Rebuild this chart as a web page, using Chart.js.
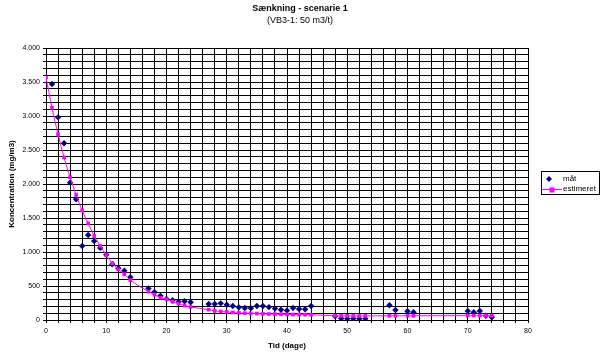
<!DOCTYPE html>
<html><head><meta charset="utf-8">
<script src="https://cdn.jsdelivr.net/npm/chart.js@4/dist/chart.umd.min.js"></script>
<style>html,body{margin:0;padding:0;background:#fff}#wrap{width:602px;height:357px}</style>
</head><body><div id="wrap"><canvas id="c" width="602" height="357"></canvas></div>
<script>
const titleText = "Sænkning - scenarie 1";
const subtitleText = "(VB3-1: 50 m3/t)";
const xTitle = "Tid (dage)";
const yTitle = "Koncentration (mg/m3)";
const seriesNames = ["måt", "estimeret"];

const maltDays = [1,2,3,4,5,6,7,8,9,10,11,12,13,14,17,18,19,20,21,22,23,24,27,28,29,30,31,32,33,34,35,36,37,38,39,40,41,42,43,44,48,49,50,51,52,53,57,58,60,61,70,71,72,73,74];
const maltValues = [3470,2980,2600,2020,1775,1090,1250,1160,1060,960,820,760,725,630,465,410,355,310,290,270,275,260,235,235,245,225,205,186,176,174,206,206,190,168,151,140,176,162,157,206,55,22,18,22,20,20,216,147,128,113,132,113,132,62,40];

const estDays = [0,1,2,3,4,5,6,7,8,9,10,11,12,13,14,17,18,19,20,21,22,23,24,27,28,29,30,31,32,33,34,35,36,37,38,39,40,41,42,43,44,48,49,50,51,52,53,57,58,60,61,70,71,72,73,74];
const estValues = [3570,3120,2730,2390,2100,1840,1610,1420,1235,1090,955,835,745,672,585,416,372,328,304,268,240,212,192,152,134,125,118,110,104,100,97,94,91,88,86,84,82,80,79,78,77,62,61,61,60,60,60,62,62,62,62,64,64,64,64,64];

const xTickLabels = [0,10,20,30,40,50,60,70,80];
const yTickLabels = [0,500,1000,1500,2000,2500,3000,3500,4000];

const FONT = "'Liberation Sans', Arial, sans-serif";
const NAVY = "#000080", MAGENTA = "#FF00FF";

function fmt(v){ return v.toString().replace(/\B(?=(\d{3})+(?!\d))/g, "."); }

const deco = {
  id: 'deco',
  afterDraw(chart){
    const ctx = chart.ctx, ca = chart.chartArea;
    ctx.save();
    ctx.fillStyle = '#000';
    ctx.textAlign = 'center';
    ctx.textBaseline = 'middle';
    ctx.font = "bold 9px " + FONT;
    ctx.fillText(titleText, 300, 9);
    ctx.font = "9px " + FONT;
    ctx.fillText(subtitleText, 300, 21);
    ctx.font = "bold 8px " + FONT;
    ctx.fillText(xTitle, (ca.left+ca.right)/2, 346);
    ctx.save();
    ctx.translate(12, (ca.top+ca.bottom)/2);
    ctx.rotate(-Math.PI/2);
    ctx.fillText(yTitle, 0, 0);
    ctx.restore();
    ctx.strokeStyle = '#000'; ctx.lineWidth = 1;
    ctx.strokeRect(541.5, 171.5, 58, 23);
    ctx.textAlign = 'left';
    ctx.font = "8px " + FONT;
    ctx.fillText(seriesNames[0], 563, 179);
    ctx.fillText(seriesNames[1], 563, 189);
    ctx.fillStyle = NAVY;
    ctx.beginPath(); ctx.moveTo(549,176); ctx.lineTo(552,179); ctx.lineTo(549,182); ctx.lineTo(546,179); ctx.closePath(); ctx.fill();
    ctx.strokeStyle = MAGENTA; ctx.beginPath(); ctx.moveTo(542,189.5); ctx.lineTo(562,189.5); ctx.stroke();
    ctx.fillStyle = MAGENTA; ctx.fillRect(549.5,187.5,5,5);
    ctx.restore();
  }
};

new Chart(document.getElementById('c'), {
  type: 'scatter',
  data: {
    datasets: [
      { label: seriesNames[0], data: maltDays.map((d,i)=>({x:d,y:maltValues[i]})),
        showLine:false, pointStyle:'rectRot', pointRadius:3.2, pointBackgroundColor:NAVY, pointBorderColor:NAVY, pointBorderWidth:0, order:2 },
      { label: seriesNames[1], data: estDays.map((d,i)=>({x:d,y:estValues[i]})),
        showLine:true, borderColor:MAGENTA, borderWidth:1, tension:0.3, pointStyle:'rect', pointRadius:2.6,
        pointBackgroundColor:MAGENTA, pointBorderColor:MAGENTA, pointBorderWidth:0, order:1 }
    ]
  },
  options: {
    responsive:false, animation:false, devicePixelRatio:1,
    layout:{ padding:{ top:48, right:74, left:0, bottom:0 } },
    plugins:{ legend:{display:false}, title:{display:false}, tooltip:{enabled:false} },
    scales:{
      x:{ type:'linear', min:0, max:80,
        afterFit(s){ s.height = 37; },
        grid:{ color:'#000', lineWidth:1, tickLength:3, drawTicks:true },
        border:{ color:'#000', width:1 },
        ticks:{ stepSize:2, maxTicksLimit:100, autoSkip:false, maxRotation:0, padding:4, color:'#000', font:{family:FONT, size:7},
          callback:(v)=> xTickLabels.includes(v) ? String(v) : '' } },
      y:{ type:'linear', min:0, max:4000,
        afterFit(s){ s.width = 46; },
        grid:{ color:'#000', lineWidth:1, tickLength:3, drawTicks:true },
        border:{ color:'#000', width:1 },
        ticks:{ stepSize:100, maxTicksLimit:100, autoSkip:false, padding:3, color:'#000', font:{family:FONT, size:7},
          callback:(v)=> yTickLabels.includes(v) ? fmt(v) : '' } }
    }
  },
  plugins:[deco]
});
</script></body></html>
